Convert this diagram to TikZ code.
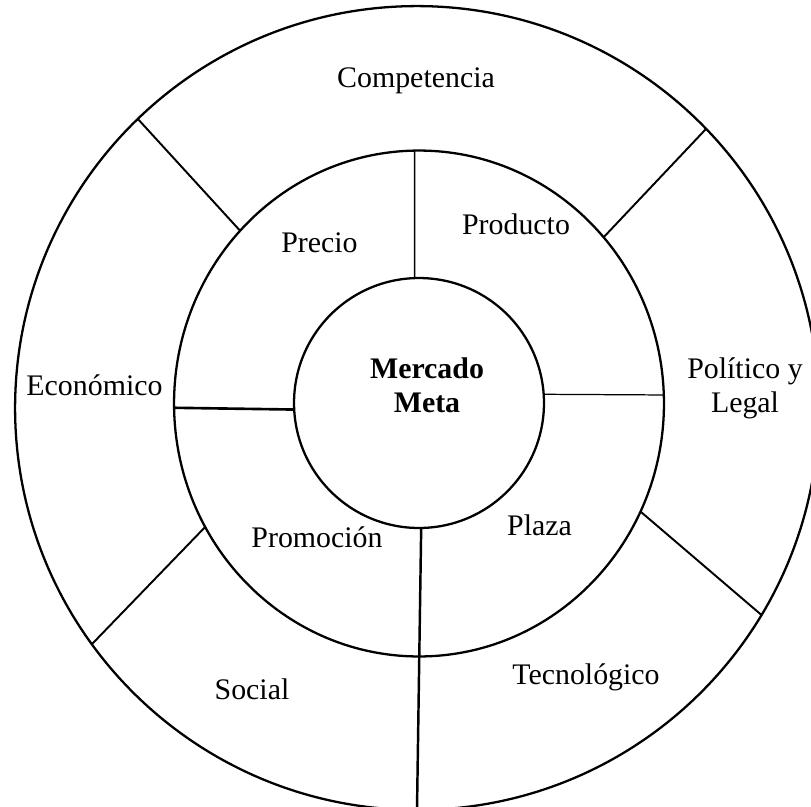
\documentclass[tikz,border=0pt]{standalone}
\usepackage{fontspec}
\setmainfont{Liberation Serif}
\usetikzlibrary{shapes.geometric}

\begin{document}
\begin{tikzpicture}[x=0.02cm, y=-0.02cm,
    ring/.style={draw, line width=1.3pt, inner sep=0pt, outer sep=0pt},
    divider/.style={line width=1.1pt},
    every node/.style={font=\fontsize{17}{19}\selectfont}]
    \useasboundingbox (0,0) rectangle (811,806);
    \node[ring, circle, minimum size=16.08cm] (outer) at (417,408) {};
    \node[ring, ellipse, minimum width=9.8cm, minimum height=10.12cm] (mid) at (419,403.5) {};
    \node[ring, circle, minimum size=5cm] (core) at (419,403) {};
    \draw[divider] (outer.134.7) -- (mid.136);
    \draw[divider] (outer.44.3) -- (mid.42.5);
    \draw[divider] (mid.210.5) -- (outer.216.2);
    \draw[divider] (mid.-26.7) -- (outer.-31.6);
    \draw[divider, line width=0.9pt] (mid.91.4) -- (core.92.7);
    \draw[divider, line width=1.5pt] (mid.181.5) -- (core.183.2);
    \draw[divider, line width=0.7pt] (mid.2.5) -- (core.4.6);
    \draw[divider, line width=1.4pt] (core.-89.5) -- (outer.-90);
    \node[anchor=base] (competencia) at (416,87) {Competencia};
    \node[anchor=base] (precio) at (319.5,252) {Precio};
    \node[anchor=base] (producto) at (516,234) {Producto};
    \node[anchor=base] (economico) at (94.5,395) {Económico};
    \node[anchor=north, align=center, inner sep=0pt] (politico) at (745,357.5) {Político y\\Legal};
    \node[anchor=north, align=center, inner sep=0pt, font=\fontsize{17}{19.5}\selectfont\bfseries] (meta) at (427,357.5) {Mercado\\Meta};
    \node[anchor=base] (promocion) at (317,547) {Promoción};
    \node[anchor=base] (plaza) at (539.5,535) {Plaza};
    \node[anchor=base] (social) at (252,699) {Social};
    \node[anchor=base] (tecnologico) at (586,684) {Tecnológico};
\end{tikzpicture}
\end{document}
